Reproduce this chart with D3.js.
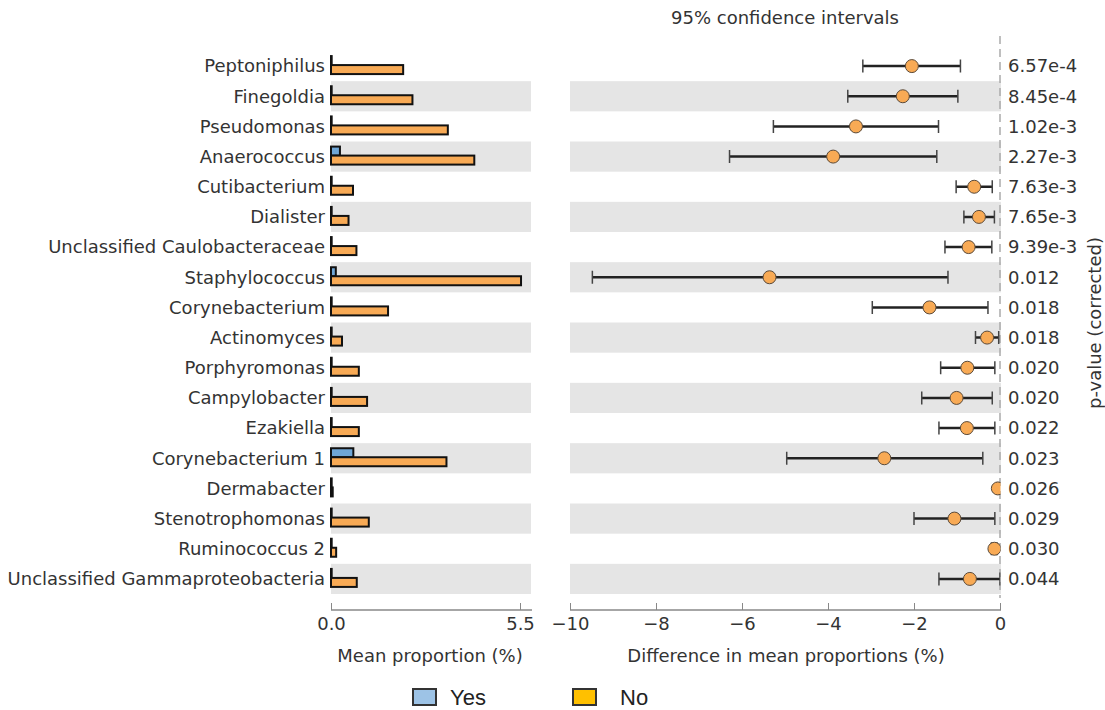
<!DOCTYPE html>
<html>
<head>
<meta charset="utf-8">
<script src="https://cdn.jsdelivr.net/npm/d3@7"></script>
<style>
  html, body { margin: 0; padding: 0; background: #fff; }
  svg { display: block; font-family: "DejaVu Sans", Verdana, sans-serif; }
</style>
</head>
<body>
<svg id="chart" width="1105" height="710"></svg>
<script>
// Genera, top to bottom
const taxa = [
  "Peptoniphilus", "Finegoldia", "Pseudomonas", "Anaerococcus", "Cutibacterium",
  "Dialister", "Unclassified Caulobacteraceae", "Staphylococcus", "Corynebacterium",
  "Actinomyces", "Porphyromonas", "Campylobacter", "Ezakiella", "Corynebacterium 1",
  "Dermabacter", "Stenotrophomonas", "Ruminococcus 2", "Unclassified Gammaproteobacteria"
];
// Mean proportion (%) per group
const meanYes = [0.02, 0.02, 0.02, 0.26, 0.02, 0.02, 0.02, 0.14, 0.02,
                 0.02, 0.02, 0.02, 0.02, 0.65, 0.02, 0.02, 0.02, 0.02];
const meanNo  = [2.10, 2.37, 3.40, 4.17, 0.64, 0.51, 0.74, 5.53, 1.66,
                 0.32, 0.81, 1.05, 0.81, 3.36, 0.05, 1.10, 0.15, 0.75];
// Difference in mean proportions (%) with 95% CI
const diff    = [-2.05, -2.26, -3.35, -3.88, -0.60, -0.49, -0.73, -5.36, -1.64,
                 -0.30, -0.76, -1.01, -0.77, -2.69, -0.05, -1.06, -0.13, -0.70];
const ciLow   = [-3.19, -3.54, -5.27, -6.29, -1.02, -0.84, -1.28, -9.48, -2.97,
                 -0.57, -1.38, -1.82, -1.42, -4.96, -0.08, -2.00, -0.20, -1.42];
const ciHigh  = [-0.92, -0.98, -1.43, -1.47, -0.18, -0.13, -0.19, -1.21, -0.28,
                 -0.03, -0.12, -0.18, -0.12, -0.40, -0.02, -0.12, -0.07, 0.00];
const pValues = ["6.57e-4", "8.45e-4", "1.02e-3", "2.27e-3", "7.63e-3", "7.65e-3", "9.39e-3",
                 "0.012", "0.018", "0.018", "0.020", "0.020", "0.022", "0.023",
                 "0.026", "0.029", "0.030", "0.044"];
const groups = ["Yes", "No"];
const meanTicks = [0, 5.5];
const diffTicks = [-10, -8, -6, -4, -2, 0];

const svg = d3.select("#chart");
const textColor = "#333";
const fontSize = 18;
const barYes = "#6fa6d6", barNo = "#f8aa55";
const legendYes = "#9dc3e6", legendNo = "#ffc000";

const y = d3.scaleBand().domain(taxa).range([51, 594]);
const xMean = d3.scaleLinear().domain([0, 5.5]).range([331, 520]);
const xDiff = d3.scaleLinear().domain([-10, 0]).range([570, 1000]);

const rows = taxa.map((t, i) => ({
  name: t, yes: meanYes[i], no: meanNo[i], diff: diff[i],
  lo: ciLow[i], hi: ciHigh[i], p: pValues[i], i
}));

// Alternating row bands
const banded = rows.filter(d => d.i % 2 === 1);
svg.append("g").selectAll("rect").data(banded).join("rect")
  .attr("x", 331).attr("width", 200)
  .attr("y", d => y(d.name)).attr("height", y.bandwidth())
  .attr("fill", "#e5e5e5");
svg.append("g").selectAll("rect").data(banded).join("rect")
  .attr("x", 570).attr("width", 431)
  .attr("y", d => y(d.name)).attr("height", y.bandwidth())
  .attr("fill", "#e5e5e5");

// Row labels
svg.append("g").selectAll("text").data(rows).join("text")
  .attr("x", 325).attr("y", d => y(d.name) + y.bandwidth() / 2)
  .attr("dy", "0.35em").attr("text-anchor", "end")
  .attr("font-size", fontSize).attr("fill", textColor)
  .text(d => d.name);

// Mean proportion bars
const c = d => y(d.name) + y.bandwidth() / 2;
const barG = svg.append("g");
barG.selectAll("rect.yes").data(rows).join("rect").attr("class", "yes")
  .attr("x", xMean(0)).attr("y", d => c(d) - 10)
  .attr("width", d => xMean(d.yes) - xMean(0)).attr("height", 9)
  .attr("fill", barYes).attr("stroke", "#111").attr("stroke-width", 2);
barG.selectAll("rect.no").data(rows).join("rect").attr("class", "no")
  .attr("x", xMean(0)).attr("y", d => c(d) - 1)
  .attr("width", d => xMean(d.no) - xMean(0)).attr("height", 9)
  .attr("fill", barNo).attr("stroke", "#111").attr("stroke-width", 2);

// Axes
function styleAxis(g) {
  g.select(".domain").attr("stroke", "#888").attr("stroke-width", 1.5);
  g.selectAll(".tick line").attr("stroke", "#888");
  g.selectAll(".tick text").attr("fill", textColor).attr("font-size", fontSize)
    .attr("font-family", "DejaVu Sans, Verdana, sans-serif");
}
svg.append("g").attr("transform", "translate(0,610)")
  .call(d3.axisBottom(xMean).tickValues(meanTicks).tickFormat(d3.format(".1f"))
    .tickSizeInner(-7).tickSizeOuter(0).tickPadding(7))
  .call(g => g.select(".domain").attr("d", "M331,0H532"))
  .call(styleAxis);
svg.append("g").attr("transform", "translate(0,610)")
  .call(d3.axisBottom(xDiff).tickValues(diffTicks).tickFormat(d3.format("d"))
    .tickSizeInner(-7).tickSizeOuter(0).tickPadding(7))
  .call(g => g.select(".domain").attr("d", "M570,0H1001"))
  .call(styleAxis);

// Zero reference line
svg.append("line")
  .attr("x1", xDiff(0)).attr("x2", xDiff(0)).attr("y1", 36).attr("y2", 598)
  .attr("stroke", "#aaa").attr("stroke-width", 1.5).attr("stroke-dasharray", "8,5");

// Confidence intervals and point estimates
svg.append("defs").append("clipPath").attr("id", "plotClip")
  .append("rect").attr("x", 570).attr("y", 40).attr("width", 430.5).attr("height", 570);
const ci = svg.append("g").attr("clip-path", "url(#plotClip)");
ci.selectAll("line.ci").data(rows).join("line").attr("class", "ci")
  .attr("x1", d => xDiff(d.lo)).attr("x2", d => xDiff(d.hi))
  .attr("y1", c).attr("y2", c)
  .attr("stroke", "#222").attr("stroke-width", 2.5);
ci.selectAll("line.capL").data(rows).join("line").attr("class", "capL")
  .attr("x1", d => xDiff(d.lo)).attr("x2", d => xDiff(d.lo))
  .attr("y1", d => c(d) - 6.5).attr("y2", d => c(d) + 6.5)
  .attr("stroke", "#444").attr("stroke-width", 1.5);
ci.selectAll("line.capR").data(rows).join("line").attr("class", "capR")
  .attr("x1", d => xDiff(d.hi)).attr("x2", d => xDiff(d.hi))
  .attr("y1", d => c(d) - 6.5).attr("y2", d => c(d) + 6.5)
  .attr("stroke", "#444").attr("stroke-width", 1.5);
ci.selectAll("circle").data(rows).join("circle")
  .attr("cx", d => xDiff(d.diff)).attr("cy", c).attr("r", 6.5)
  .attr("fill", barNo).attr("stroke", "#5a4a3a").attr("stroke-width", 1);

// p-values
svg.append("g").selectAll("text").data(rows).join("text")
  .attr("x", 1008).attr("y", c).attr("dy", "0.35em")
  .attr("font-size", fontSize).attr("fill", textColor)
  .text(d => d.p);

// Titles
svg.append("text").attr("x", 785).attr("y", 18).attr("dy", "0.35em")
  .attr("text-anchor", "middle").attr("font-size", fontSize).attr("fill", textColor)
  .text("95% confidence intervals");
svg.append("text").attr("x", 430).attr("y", 656).attr("dy", "0.35em")
  .attr("text-anchor", "middle").attr("font-size", fontSize).attr("fill", textColor)
  .text("Mean proportion (%)");
svg.append("text").attr("x", 786).attr("y", 656).attr("dy", "0.35em")
  .attr("text-anchor", "middle").attr("font-size", fontSize).attr("fill", textColor)
  .text("Difference in mean proportions (%)");
svg.append("text")
  .attr("transform", "translate(1095,323) rotate(-90)").attr("dy", "0.35em")
  .attr("text-anchor", "middle").attr("font-size", fontSize).attr("fill", textColor)
  .text("p-value (corrected)");

// Legend
const legendX = [413, 573];
const legendTextX = [450, 620];
const legendFill = [legendYes, legendNo];
const lg = svg.append("g");
lg.selectAll("rect").data(groups).join("rect")
  .attr("x", (d, i) => legendX[i]).attr("y", 689).attr("width", 23).attr("height", 16)
  .attr("fill", (d, i) => legendFill[i]).attr("stroke", "#333").attr("stroke-width", 2);
lg.selectAll("text").data(groups).join("text")
  .attr("x", (d, i) => legendTextX[i]).attr("y", 697).attr("dy", "0.35em")
  .attr("font-family", "Liberation Sans, Arial, sans-serif")
  .attr("font-size", 22).attr("fill", "#222")
  .text(d => d);
</script>
</body>
</html>
